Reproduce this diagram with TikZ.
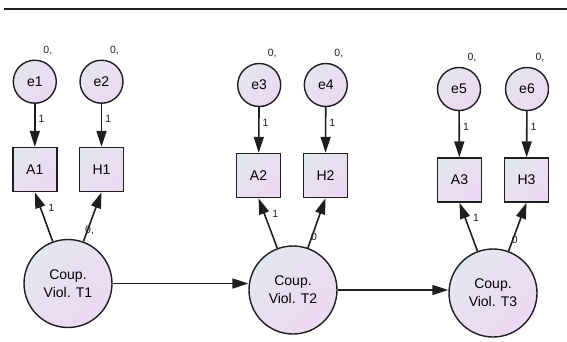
\documentclass[tikz,border=0pt]{standalone}
\usepackage{fontspec}
\setmainfont{Liberation Sans}
\usetikzlibrary{arrows.meta}
\definecolor{fillA}{HTML}{E3E6EF}
\definecolor{fillB}{HTML}{EDD8F3}
\definecolor{ink}{HTML}{1E1E1E}
\begin{document}
\begin{tikzpicture}[x=1pt,y=-1pt,
  shaded/.style={top color=fillA, bottom color=fillB, shading angle=45,
    draw=ink, line width=1.4pt},
  err/.style={shaded, circle, minimum size=43pt, inner sep=0pt,
    font=\fontsize{14}{16}\selectfont},
  obs/.style={shaded, rectangle, minimum size=44pt, inner sep=0pt,
    font=\fontsize{14}{16}\selectfont},
  lat/.style={shaded, circle, minimum size=88pt, inner sep=0pt, align=center,
    font=\fontsize{14}{18}\selectfont},
  link/.style={draw=ink, line width=1.6pt, -{Triangle[length=16pt,width=10pt]}},
  wt/.style={font=\fontsize{10.5}{12}\selectfont, inner sep=1pt, text=ink},
  var/.style={font=\fontsize{10.5}{12}\selectfont, inner sep=0pt, text=ink},
]
\useasboundingbox (0,0) rectangle (567,341);

% header rule
\coordinate (ruleL) at (4,9);
\coordinate (ruleR) at (567,9);
\draw[ink, line width=2pt] (ruleL) -- (ruleR);

% wave 1
\node[err] (e1) at (34.8,81.7) {e1};
\node[err] (e2) at (101.5,81.7) {e2};
\node[obs] (A1) at (34.8,169.5) {A1};
\node[obs] (H1) at (101.5,169.5) {H1};
\node[lat] (T1) at (68,283.5) {Coup.\\Viol. T1};

% wave 2
\node[err] (e3) at (259.2,85) {e3};
\node[err] (e4) at (325.8,85) {e4};
\node[obs] (A2) at (258.5,175.5) {A2};
\node[obs] (H2) at (325.5,175.5) {H2};
\node[lat] (T2) at (293,290) {Coup.\\Viol. T2};

% wave 3
\node[err] (e5) at (459,89) {e5};
\node[err] (e6) at (527,89) {e6};
\node[obs] (A3) at (459.5,180) {A3};
\node[obs] (H3) at (526.5,180) {H3};
\node[lat] (T3) at (493,293) {Coup.\\Viol. T3};

% error variances
\foreach \e in {e1,e2,e3,e4,e5,e6}
  \node[var] (v\e) at ([xshift=13pt,yshift=31pt]\e.center) {0,};

% residual paths
\foreach \e/\m in {e1/A1,e2/H1,e3/A2,e4/H2,e5/A3,e6/H3}
  \draw[link] (\e) -- node[wt, pos=0.35, anchor=west, xshift=2pt] {1} (\m);

% loadings
\draw[link] (T1) -- node[wt, pos=0.68, anchor=west, xshift=6pt] {1} (A1.south);
\draw[link] (T1) -- node[wt, pos=0.23, xshift=2pt] {0,} (H1.south);
\draw[link] (T2) -- node[wt, pos=0.68, anchor=west, xshift=6pt] {1} (A2.south);
\draw[link] (T2) -- node[wt, pos=0.23, xshift=2pt] {0} (H2.south);
\draw[link] (T3) -- node[wt, pos=0.68, anchor=west, xshift=6pt] {1} (A3.south);
\draw[link] (T3) -- node[wt, pos=0.23, xshift=2pt] {0} (H3.south);

% stability paths
\draw[link] (T1.east) -- (T1.east -| T2.west);
\draw[link] (T2.east) -- (T2.east -| T3.west);
\end{tikzpicture}
\end{document}
